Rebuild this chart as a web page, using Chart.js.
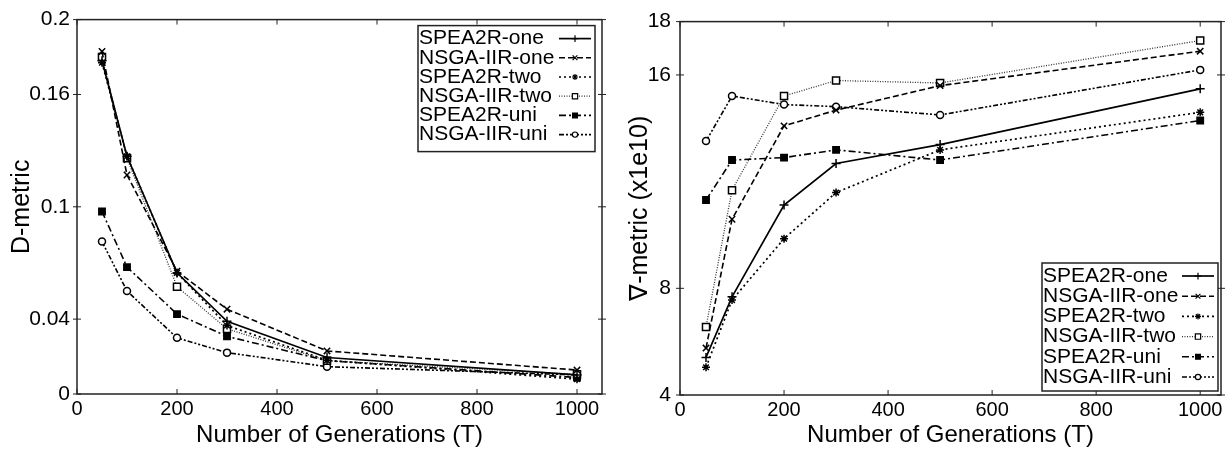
<!DOCTYPE html>
<html>
<head>
<meta charset="utf-8">
<script src="https://cdn.jsdelivr.net/npm/chart.js@4.4.1/dist/chart.umd.min.js"></script>
<style>
  html, body { margin: 0; padding: 0; background: #fff; }
  .panel { position: absolute; top: 0; }
</style>
</head>
<body>
<div class="panel" style="left:0"><canvas id="dChart" width="612" height="453"></canvas></div>
<div class="panel" style="left:612px"><canvas id="nablaChart" width="620" height="453"></canvas></div>
<script>
// generations on the x axis
const gens = [50, 100, 200, 300, 500, 1000];
const xTicks = [0, 200, 400, 600, 800, 1000];

const seriesNames = ['SPEA2R-one', 'NSGA-IIR-one', 'SPEA2R-two', 'NSGA-IIR-two', 'SPEA2R-uni', 'NSGA-IIR-uni'];

// D-metric
const dSpeaOne  = [0.178, 0.127, 0.0647, 0.0388, 0.0195, 0.0102];
const dNsgaOne  = [0.183, 0.117, 0.0656, 0.0453, 0.0230, 0.0128];
const dSpeaTwo  = [0.177, 0.127, 0.0647, 0.0366, 0.0180, 0.0079];
const dNsgaTwo  = [0.180, 0.126, 0.0573, 0.0348, 0.0178, 0.0105];
const dSpeaUni  = [0.0975, 0.0678, 0.0427, 0.0308, 0.0178, 0.0088];
const dNsgaUni  = [0.0814, 0.0550, 0.0300, 0.0221, 0.0146, 0.0102];
const dTicks = [0, 0.04, 0.1, 0.16, 0.2];

// nabla-metric (x1e10)
const nSpeaOne  = [5.41, 7.68, 11.12, 12.68, 13.39, 15.48];
const nNsgaOne  = [5.76, 10.59, 14.09, 14.68, 15.60, 16.89];
const nSpeaTwo  = [5.04, 7.56, 9.86, 11.59, 13.19, 14.60];
const nNsgaTwo  = [6.55, 11.68, 15.21, 15.79, 15.70, 17.29];
const nSpeaUni  = [11.31, 12.81, 12.90, 13.19, 12.81, 14.29];
const nNsgaUni  = [13.52, 15.21, 14.89, 14.81, 14.50, 16.19];
const nTicks = [4, 8, 16, 18];

Chart.defaults.font.family = '"Liberation Sans", Arial, sans-serif';
Chart.defaults.color = '#000';

// gnuplot-ish line styles, one per series
const styles = [
  { dash: [],                 point: 'cross',    r: 4.5, fill: '#000', color: '#000', width: 1.7 },
  { dash: [6, 3],             point: 'crossRot', r: 4.5, fill: '#000', color: '#000', width: 1.6 },
  { dash: [2, 3],             point: 'star',     r: 4,   fill: '#000', color: '#000', width: 1.7 },
  { dash: [1, 1.5],           point: 'rect',     r: 5,   fill: '#fff', color: '#333', width: 1.3 },
  { dash: [7, 3, 2, 3],       point: 'rect',     r: 4.5, fill: '#000', color: '#000', width: 1.6 },
  { dash: [5, 2, 2, 2, 2, 2], point: 'circle',   r: 3.5, fill: '#fff', color: '#000', width: 1.6 }
];

function makeDatasets(series) {
  return series.map((vals, i) => {
    const s = styles[i];
    return {
      label: seriesNames[i],
      data: gens.map((g, j) => ({ x: g, y: vals[j] })),
      borderColor: s.color,
      borderWidth: s.width,
      borderDash: s.dash,
      pointStyle: s.point,
      pointRadius: s.r,
      pointBackgroundColor: s.fill,
      pointBorderColor: '#000',
      pointBorderWidth: 1.5,
      tension: 0,
      fill: false
    };
  });
}

// box around the plot area with small ticks on all four sides
const frame = {
  id: 'frame',
  afterDraw(chart) {
    const { ctx, chartArea: a, scales } = chart;
    ctx.save();
    ctx.strokeStyle = '#222';
    ctx.lineWidth = 1.5;
    ctx.strokeRect(a.left, a.top, a.right - a.left, a.bottom - a.top);
    ctx.beginPath();
    scales.x.ticks.forEach(t => {
      const px = scales.x.getPixelForValue(t.value);
      ctx.moveTo(px, a.bottom); ctx.lineTo(px, a.bottom - 5);
      ctx.moveTo(px, a.top); ctx.lineTo(px, a.top + 5);
    });
    scales.y.ticks.forEach(t => {
      const py = scales.y.getPixelForValue(t.value);
      ctx.moveTo(a.left - 4, py); ctx.lineTo(a.left + 4, py);
      ctx.moveTo(a.right - 4, py); ctx.lineTo(a.right + 4, py);
    });
    ctx.lineWidth = 1;
    ctx.stroke();
    ctx.restore();
  }
};

// legend: label on the left, line sample with marker on the right
const boxLegend = {
  id: 'boxLegend',
  afterDraw(chart, args, o) {
    const { ctx, chartArea: a } = chart;
    const right = a.right - o.right;
    const left = right - o.width;
    const top = o.top != null ? a.top + o.top : a.bottom - o.bottom - o.height;
    ctx.save();
    ctx.fillStyle = '#fff';
    ctx.fillRect(left, top, o.width, o.height);
    ctx.strokeStyle = '#222';
    ctx.lineWidth = 1.5;
    ctx.strokeRect(left, top, o.width, o.height);
    ctx.font = '21px "Liberation Sans", Arial, sans-serif';
    ctx.textBaseline = 'middle';
    chart.data.datasets.forEach((ds, i) => {
      const y = top + o.first + i * o.row;
      ctx.fillStyle = '#000';
      ctx.fillText(ds.label, left + 1, y);
      const x1 = right - 4 - o.sample, x2 = right - 4;
      ctx.strokeStyle = ds.borderColor;
      ctx.lineWidth = ds.borderWidth;
      ctx.setLineDash(ds.borderDash);
      ctx.beginPath(); ctx.moveTo(x1, y); ctx.lineTo(x2, y); ctx.stroke();
      ctx.setLineDash([]);
      ctx.fillStyle = ds.pointBackgroundColor;
      ctx.strokeStyle = '#000';
      ctx.lineWidth = 1.2;
      Chart.helpers.drawPoint(ctx, { pointStyle: ds.pointStyle, radius: ds.pointRadius * 0.75, borderWidth: 1.2, rotation: 0 }, (x1 + x2) / 2, y);
    });
    ctx.restore();
  }
};

function makeChart(id, series, yMin, yMax, yTicks, xMax, yTitle, dims, legendOpts) {
  return new Chart(document.getElementById(id), {
    type: 'line',
    data: { datasets: makeDatasets(series) },
    plugins: [frame, boxLegend],
    options: {
      responsive: false,
      animation: false,
      layout: { padding: { top: 15, right: dims.padRight, left: 0, bottom: 0 } },
      plugins: { legend: { display: false }, tooltip: { enabled: false }, boxLegend: legendOpts },
      scales: {
        x: {
          type: 'linear',
          min: 0,
          max: xMax,
          afterBuildTicks: s => { s.ticks = xTicks.map(v => ({ value: v })); },
          afterFit: s => { s.height = dims.xHeight; },
          grid: { display: false, drawTicks: false },
          border: { display: false },
          ticks: { font: { size: 20 }, padding: 3, maxRotation: 0, callback: v => String(v) },
          title: { display: true, text: 'Number of Generations (T)', font: { size: 24 }, padding: { top: 0, bottom: 3 } }
        },
        y: {
          type: 'linear',
          min: yMin,
          max: yMax,
          afterBuildTicks: s => { s.ticks = yTicks.map(v => ({ value: v })); },
          afterFit: s => { s.width = dims.yWidth; },
          grid: { display: false, drawTicks: false },
          border: { display: false },
          ticks: { font: { size: 21 }, padding: dims.yPad, callback: v => String(v) },
          title: { display: true, text: yTitle, font: { size: 25 }, padding: { top: dims.titlePad, bottom: 0 } }
        }
      }
    }
  });
}

makeChart('dChart',
  [dSpeaOne, dNsgaOne, dSpeaTwo, dNsgaTwo, dSpeaUni, dNsgaUni],
  0, 0.2, dTicks, 1050, 'D-metric',
  { padRight: 10, xHeight: 59, yWidth: 77, yPad: 7, titlePad: 7 },
  { right: 7, top: 6, width: 177, height: 126, first: 13, row: 19.2, sample: 32 });

makeChart('nablaChart',
  [nSpeaOne, nNsgaOne, nSpeaTwo, nNsgaTwo, nSpeaUni, nNsgaUni],
  4, 18, nTicks, 1040, '\u2207-metric (x1e10)',
  { padRight: 11, xHeight: 58, yWidth: 68, yPad: 9, titlePad: 13 },
  { right: 3, bottom: 4, width: 176, height: 128, first: 13, row: 20.2, sample: 32 });
</script>
</body>
</html>
